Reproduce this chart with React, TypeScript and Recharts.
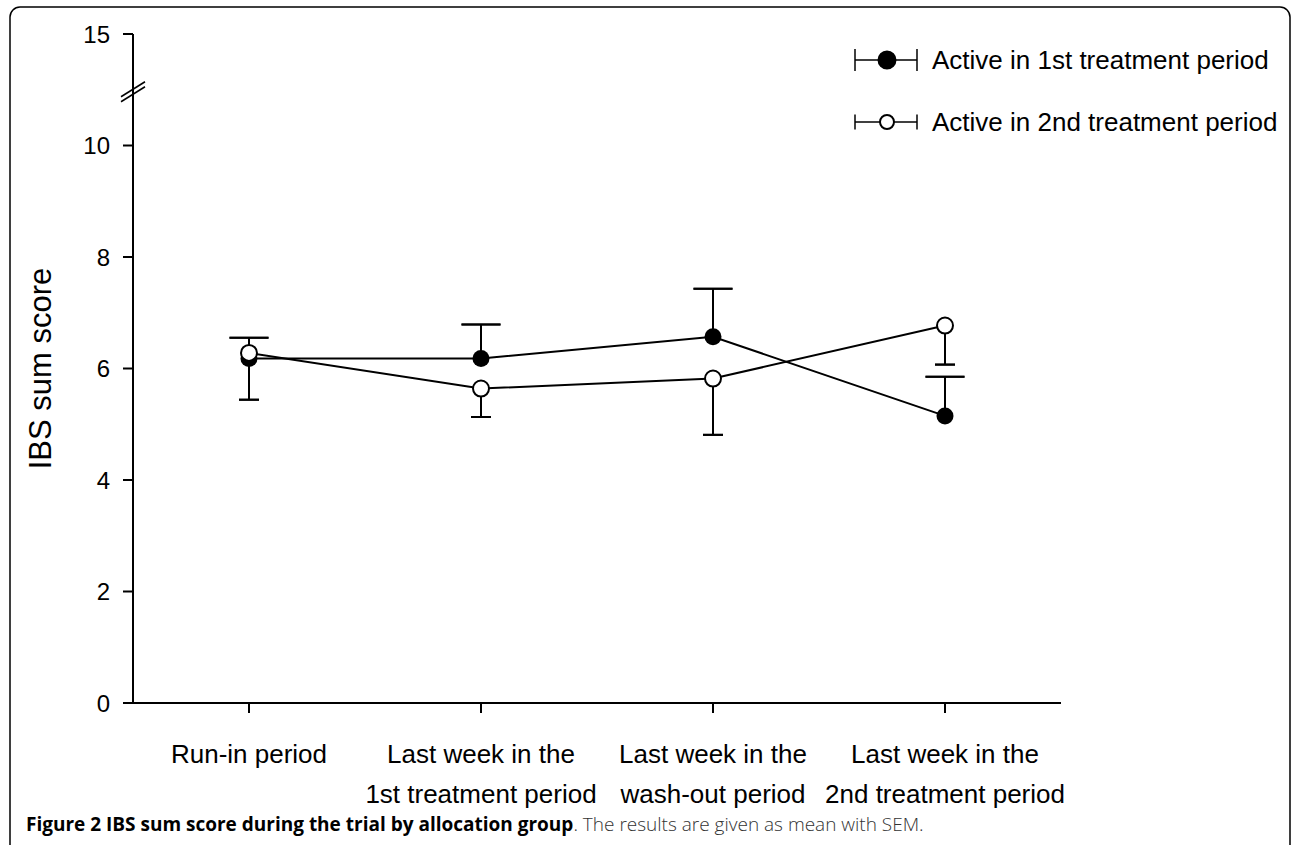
import { ErrorBar, Legend, Line, LineChart, ReferenceLine, XAxis, YAxis } from "recharts";

// Categories (x axis), one label per time point; "\n" splits the two tick lines.
const periods = [
  "Run-in period",
  "Last week in the\n1st treatment period",
  "Last week in the\nwash-out period",
  "Last week in the\n2nd treatment period",
];

// Y axis is broken above 10: display value 12 carries the "15" label.
const yTicks = [0, 2, 4, 6, 8, 10, 12];
const yTickLabels: Record<number, string> = { 0: "0", 2: "2", 4: "4", 6: "6", 8: "8", 10: "10", 12: "15" };
const yBreakAt = 11;

const seriesNames = ["Active in 1st treatment period", "Active in 2nd treatment period"];

// Means and the end of the (one-sided) SEM bar.
const activeFirstMean = [6.18, 6.18, 6.57, 5.15];
const activeFirstSemEnd = [5.44, 6.79, 7.43, 5.85];
const activeSecondMean = [6.28, 5.64, 5.82, 6.77];
const activeSecondSemEnd = [6.55, 5.13, 4.81, 6.07];

const oneSided = (mean: number, end: number) => (end > mean ? [0, end - mean] : [mean - end, 0]);
const upEnd = (i: number) =>
  activeFirstSemEnd[i] > activeFirstMean[i] ? activeFirstSemEnd[i] : activeSecondSemEnd[i];
const downEnd = (i: number) =>
  activeFirstSemEnd[i] < activeFirstMean[i] ? activeFirstSemEnd[i] : activeSecondSemEnd[i];

const data = periods.map((period, i) => ({
  period,
  first: activeFirstMean[i],
  firstErr: oneSided(activeFirstMean[i], activeFirstSemEnd[i]),
  second: activeSecondMean[i],
  secondErr: oneSided(activeSecondMean[i], activeSecondSemEnd[i]),
  capUp: upEnd(i),
  capDown: downEnd(i),
  none: [0, 0],
}));

const FONT = "'Liberation Sans', Arial, Helvetica, sans-serif";

function PeriodTick({ x, y, payload }: any) {
  const lines = String(payload.value).split("\n");
  return (
    <text textAnchor="middle" fontFamily={FONT} fontSize={26} fill="#000">
      {lines.map((l, k) => (
        <tspan key={k} x={x} y={y + 48 + k * 40}>
          {l}
        </tspan>
      ))}
    </text>
  );
}

function AxisBreak(p: any) {
  const x = p.x1;
  const y = p.y1 + 2;
  return (
    <g stroke="#000" strokeWidth={1.5}>
      {[-2.5, 2.5].map((o) => (
        <line key={o} x1={x - 12} y1={y + o + 7.5} x2={x + 12} y2={y + o - 7.5} />
      ))}
    </g>
  );
}

function LegendBox() {
  const rows = [
    { name: seriesNames[0], fill: "#000", r: 8.5, cap: 11, cy: 30 },
    { name: seriesNames[1], fill: "#fff", r: 7, cap: 7.5, cy: 92 },
  ];
  return (
    <svg width={447} height={120} style={{ display: "block" }}>
      {rows.map((row) => (
        <g key={row.name}>
          <line x1={10} x2={72} y1={row.cy} y2={row.cy} stroke="#000" strokeWidth={1.5} />
          <line x1={10} x2={10} y1={row.cy - row.cap} y2={row.cy + row.cap} stroke="#000" strokeWidth={1.5} />
          <line x1={72} x2={72} y1={row.cy - row.cap} y2={row.cy + row.cap} stroke="#000" strokeWidth={1.5} />
          <circle cx={42} cy={row.cy} r={row.r} fill={row.fill} stroke="#000" strokeWidth={2} />
          <text x={87} y={row.cy} dominantBaseline="central" fontFamily={FONT} fontSize={26} fill="#000">
            {row.name}
          </text>
        </g>
      ))}
    </svg>
  );
}

export default function App() {
  return (
    <div style={{ position: "absolute", left: 0, top: 0, width: 1292, height: 845, background: "#fff", overflow: "hidden" }}>
      <LineChart width={1292} height={845} data={data} margin={{ top: 34, right: 231, bottom: 42, left: 53 }}>
        <XAxis
          dataKey="period"
          height={100}
          padding={{ left: 116, right: 116 }}
          axisLine={{ stroke: "#000", strokeWidth: 2 }}
          tickLine={{ stroke: "#000", strokeWidth: 2 }}
          tickSize={10}
          tick={<PeriodTick />}
          interval={0}
        />
        <YAxis
          width={80}
          domain={[0, 12]}
          ticks={yTicks}
          allowDataOverflow
          tickFormatter={(v: number) => yTickLabels[v] ?? ""}
          axisLine={{ stroke: "#000", strokeWidth: 2 }}
          tickLine={{ stroke: "#000", strokeWidth: 2 }}
          tickSize={10}
          tickMargin={13}
          tick={{ fontFamily: FONT, fontSize: 24, fill: "#000" }}
          label={({ viewBox }: any) => {
            const cx = viewBox.x - 13;
            const cy = viewBox.y + viewBox.height / 2;
            return (
              <text
                x={cx}
                y={cy}
                transform={`rotate(-90 ${cx} ${cy})`}
                textAnchor="middle"
                dominantBaseline="central"
                fontFamily={FONT}
                fontSize={31}
                fill="#000"
              >
                IBS sum score
              </text>
            );
          }}
        />
        <ReferenceLine y={yBreakAt} shape={<AxisBreak />} />
        <Legend
          layout="vertical"
          align="center"
          verticalAlign="middle"
          content={() => <LegendBox />}
          wrapperStyle={{ left: 845, top: 30, width: 447 }}
        />
        <Line
          dataKey="first"
          name={seriesNames[0]}
          stroke="#000"
          strokeWidth={2}
          dot={{ r: 8.5, fill: "#000", stroke: "#000", strokeWidth: 0 }}
          activeDot={false}
          isAnimationActive={false}
        >
          <ErrorBar dataKey="firstErr" width={0} stroke="#000" strokeWidth={2} isAnimationActive={false} />
        </Line>
        <Line
          dataKey="second"
          name={seriesNames[1]}
          stroke="#000"
          strokeWidth={2}
          dot={{ r: 8, fill: "#fff", stroke: "#000", strokeWidth: 2 }}
          activeDot={false}
          isAnimationActive={false}
        >
          <ErrorBar dataKey="secondErr" width={0} stroke="#000" strokeWidth={2} isAnimationActive={false} />
        </Line>
        {/* invisible series that only carry the error-bar caps */}
        <Line dataKey="capUp" stroke="none" dot={false} activeDot={false} legendType="none" isAnimationActive={false}>
          <ErrorBar dataKey="none" width={19.5} stroke="#000" strokeWidth={2} isAnimationActive={false} />
        </Line>
        <Line dataKey="capDown" stroke="none" dot={false} activeDot={false} legendType="none" isAnimationActive={false}>
          <ErrorBar dataKey="none" width={10} stroke="#000" strokeWidth={2} isAnimationActive={false} />
        </Line>
      </LineChart>
      <svg width={1292} height={845} style={{ position: "absolute", left: 0, top: 0, pointerEvents: "none" }}>
        <rect x={10} y={7} width={1280} height={900} rx={10} ry={10} fill="none" stroke="#000" strokeWidth={1.5} />
        <text x={26} y={831} fontFamily="'Open Sans', 'Noto Sans', sans-serif" fontSize={19}>
          <tspan fontWeight={700} fill="#000">
            Figure 2 IBS sum score during the trial by allocation group
          </tspan>
          <tspan fontWeight={300} fill="#333">. The results are given as mean with SEM.</tspan>
        </text>
      </svg>
    </div>
  );
}
